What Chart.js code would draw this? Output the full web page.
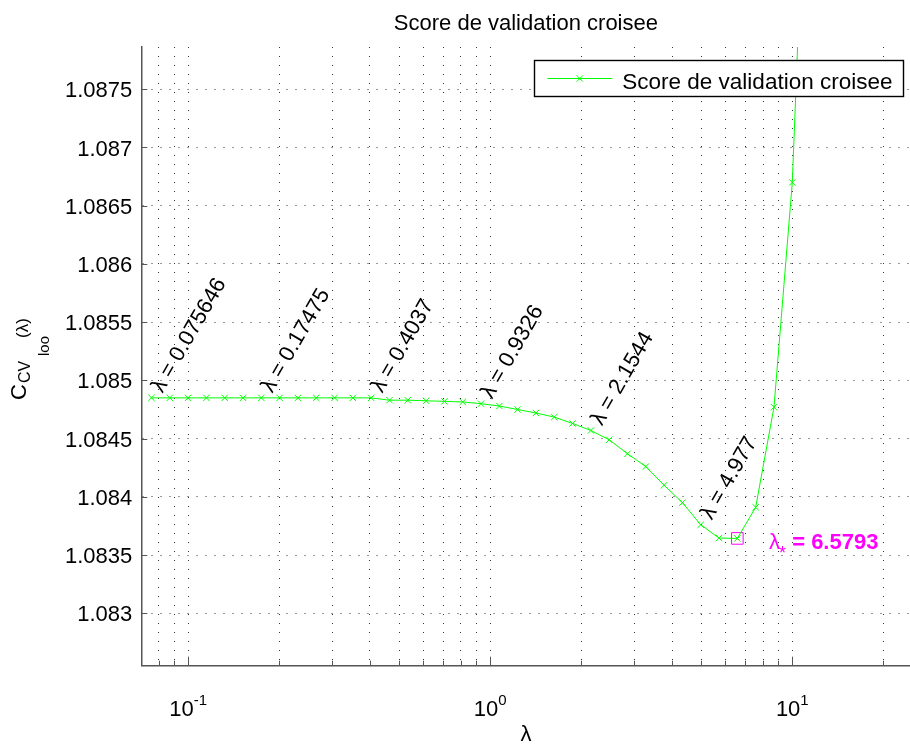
<!DOCTYPE html>
<html>
<head>
<meta charset="utf-8">
<title>Score de validation croisee</title>
<script src="https://cdn.jsdelivr.net/npm/chart.js@4.4.1/dist/chart.umd.min.js"></script>
<style>
  html, body { margin: 0; padding: 0; background: #ffffff; overflow: hidden; }
  #wrap { position: absolute; left: 0; top: 0; width: 930px; height: 745px; }
</style>
</head>
<body>
<div id="wrap"><canvas id="cv" width="930" height="745"></canvas></div>
<script>
// Regularisation parameters (log-spaced grid)
const lambdas = [
  0.075646, 0.086975, 0.1, 0.11498, 0.13219, 0.15199, 0.17475, 0.20092,
  0.23101, 0.26561, 0.30539, 0.35112, 0.40370, 0.46416, 0.53367, 0.61359,
  0.70548, 0.81113, 0.93260, 1.0723, 1.2328, 1.4175, 1.6298, 1.8738,
  2.1544, 2.4771, 2.8480, 3.2745, 3.7649, 4.3288, 4.9770, 5.7224,
  6.5793, 7.5646, 8.6975, 10.0, 11.498
];

// Leave-one-out cross-validation score for each lambda
const scores = [
  1.08485, 1.08485, 1.08485, 1.08485, 1.08485, 1.08485, 1.08485, 1.08485,
  1.08485, 1.08485, 1.08485, 1.08485, 1.08485, 1.08483, 1.08483, 1.084825,
  1.08482, 1.084815, 1.08480, 1.08478, 1.08475, 1.08472, 1.084685, 1.08463,
  1.08457, 1.08449, 1.08437, 1.08426, 1.08410, 1.08395, 1.08376, 1.083646,
  1.083643, 1.08391, 1.08477, 1.08670, 1.0907
];

// Points that get a rotated "λ = ..." annotation
const labelIdx = [0, 6, 12, 18, 24, 30];

const seriesName = 'Score de validation croisee';
const chartTitle = 'Score de validation croisee';

// Axis ticks
const xGridValues = [0.07, 0.08, 0.09, 0.1, 0.2, 0.3, 0.4, 0.5, 0.6, 0.7, 0.8, 0.9,
                     1, 2, 3, 4, 5, 6, 7, 8, 9, 10, 20];
const xMajorValues = [0.1, 1, 10];
const xTickLabels = ['10^-1', '10^0', '10^1'];
const yTickValues = [1.083, 1.0835, 1.084, 1.0845, 1.085, 1.0855, 1.086, 1.0865, 1.087, 1.0875];

const FONT = "'Liberation Sans', Arial, Helvetica, sans-serif";
const GREEN = '#00ff00', MAGENTA = '#ff00ff', AXIS = '#555555', GRID = '#333333';

// %g-style number formatting with 5 significant digits
const fmt = v => String(Number(Number(v).toPrecision(5)));

const best = scores.indexOf(Math.min(...scores));

function drawCross(ctx, cx, cy, r) {
  const d = r * Math.SQRT1_2;
  ctx.beginPath();
  ctx.moveTo(cx - d, cy - d); ctx.lineTo(cx + d, cy + d);
  ctx.moveTo(cx + d, cy - d); ctx.lineTo(cx - d, cy + d);
  ctx.stroke();
}

const decorations = {
  id: 'decorations',
  afterDraw(chart) {
    const { ctx, chartArea: a, scales: { x, y } } = chart;
    const pts = chart.getDatasetMeta(0).data;
    ctx.save();

    // inward tick marks
    ctx.strokeStyle = AXIS;
    ctx.lineWidth = 1;
    xGridValues.forEach(v => {
      const px = Math.round(x.getPixelForValue(v)) + 0.5;
      const len = xMajorValues.includes(v) ? 9 : 5;
      ctx.beginPath(); ctx.moveTo(px, a.bottom); ctx.lineTo(px, a.bottom - len); ctx.stroke();
    });
    yTickValues.forEach(v => {
      const py = Math.round(y.getPixelForValue(v)) + 0.5;
      ctx.beginPath(); ctx.moveTo(a.left, py); ctx.lineTo(a.left + 6, py); ctx.stroke();
    });

    // x tick labels with exponents
    ctx.fillStyle = '#000';
    ctx.textAlign = 'left';
    ctx.textBaseline = 'alphabetic';
    xMajorValues.forEach((v, k) => {
      const [base, ex] = xTickLabels[k].split('^');
      const px = x.getPixelForValue(v);
      ctx.font = `22px ${FONT}`;
      const wb = ctx.measureText(base).width;
      ctx.font = `15px ${FONT}`;
      const we = ctx.measureText(ex).width;
      const x0 = px - (wb + we) / 2;
      ctx.font = `22px ${FONT}`;
      ctx.fillText(base, x0, a.bottom + 50);
      ctx.font = `15px ${FONT}`;
      ctx.fillText(ex, x0 + wb, a.bottom + 39);
    });

    // axis titles
    ctx.font = `22px ${FONT}`;
    ctx.textAlign = 'center';
    ctx.fillText('λ', (a.left + a.right) / 2 - 1, 741);
    ctx.fillText(chartTitle, (a.left + a.right) / 2 - 1, 30);

    ctx.textAlign = 'left';
    const yParts = [
      { t: 'C', size: 22, bx: 26, sy: 400 },
      { t: 'CV', size: 16, bx: 30, sy: 383 },
      { t: 'loo', size: 15, bx: 49, sy: 356 },
      { t: '(λ)', size: 17, bx: 28, sy: 338 }
    ];
    yParts.forEach(p => {
      ctx.save();
      ctx.translate(p.bx, p.sy);
      ctx.rotate(-Math.PI / 2);
      ctx.font = `${p.size}px ${FONT}`;
      ctx.fillText(p.t, 0, 0);
      ctx.restore();
    });

    // rotated lambda annotations
    ctx.font = `22px ${FONT}`;
    ctx.fillStyle = '#000';
    labelIdx.forEach(i => {
      const p = pts[i];
      ctx.save();
      ctx.translate(p.x + 11, p.y - 4);
      ctx.rotate(-Math.PI / 3);
      ctx.fillText('λ = ' + fmt(lambdas[i]), 0, 0);
      ctx.restore();
    });

    // optimum annotation
    const pb = pts[best];
    let tx = pb.x + 31.7;
    const ty = pb.y + 10.7;
    ctx.fillStyle = MAGENTA;
    ctx.font = `22px ${FONT}`;
    ctx.fillText('λ', tx, ty);
    tx += ctx.measureText('λ').width;
    ctx.font = `18px ${FONT}`;
    ctx.fillText('*', tx - 1, ty + 10);
    tx += ctx.measureText('*').width - 1;
    ctx.font = `bold 22px ${FONT}`;
    ctx.fillText(' = ' + fmt(lambdas[best]), tx, ty);

    // legend
    const L = { left: 534.5, top: 60.5, w: 369, h: 36 };
    ctx.fillStyle = '#ffffff';
    ctx.fillRect(L.left, L.top, L.w, L.h);
    ctx.strokeStyle = '#000';
    ctx.lineWidth = 1.4;
    ctx.strokeRect(L.left, L.top, L.w, L.h);
    const ly = 78.5;
    ctx.strokeStyle = GREEN;
    ctx.lineWidth = 1;
    ctx.beginPath(); ctx.moveTo(547.3, ly); ctx.lineTo(612.3, ly); ctx.stroke();
    drawCross(ctx, 579.8, ly, 4.5);
    ctx.fillStyle = '#000';
    ctx.font = `22.5px ${FONT}`;
    ctx.fillText(seriesName, 622.3, 88.5);

    ctx.restore();
  }
};

Chart.defaults.font.family = FONT;

new Chart(document.getElementById('cv'), {
  type: 'line',
  data: {
    datasets: [{
      label: seriesName,
      data: lambdas.map((l, i) => ({ x: l, y: scores[i] })),
      borderColor: GREEN,
      borderWidth: 1,
      tension: 0,
      fill: false,
      pointStyle: 'crossRot',
      pointRadius: 4.5,
      pointBorderColor: GREEN,
      pointBackgroundColor: 'transparent',
      pointBorderWidth: 1
    }, {
      label: 'optimum',
      data: [{ x: lambdas[best], y: scores[best] }],
      showLine: false,
      pointStyle: 'rect',
      pointRadius: 8.2,
      pointBorderColor: MAGENTA,
      pointBackgroundColor: 'transparent',
      pointBorderWidth: 1
    }]
  },
  options: {
    responsive: false,
    devicePixelRatio: 1,
    animation: false,
    events: [],
    layout: { padding: { top: 47, right: 17.5, bottom: 0, left: 0 } },
    plugins: {
      legend: { display: false },
      title: { display: false },
      tooltip: { enabled: false }
    },
    scales: {
      x: {
        type: 'logarithmic',
        min: 0.07,
        max: 25,
        afterBuildTicks: s => { s.ticks = xGridValues.map(v => ({ value: v })); },
        afterFit: s => { s.height = 79.3; },
        ticks: { display: false, autoSkip: false },
        grid: { drawTicks: false, color: GRID, lineWidth: 1 },
        border: { display: true, color: AXIS, width: 1.5, dash: [1, 8] }
      },
      y: {
        type: 'linear',
        min: 1.08255,
        max: 1.087863,
        afterBuildTicks: s => { s.ticks = yTickValues.map(v => ({ value: v })); },
        afterFit: s => { s.width = 141.3; },
        ticks: {
          autoSkip: false,
          padding: 9,
          labelOffset: 2,
          color: '#000',
          font: { family: FONT, size: 22 },
          callback: v => fmt(v)
        },
        grid: { drawTicks: false, color: GRID, lineWidth: 1 },
        border: { display: true, color: AXIS, width: 1.5, dash: [1, 8] }
      }
    }
  },
  plugins: [decorations]
});
</script>
</body>
</html>
